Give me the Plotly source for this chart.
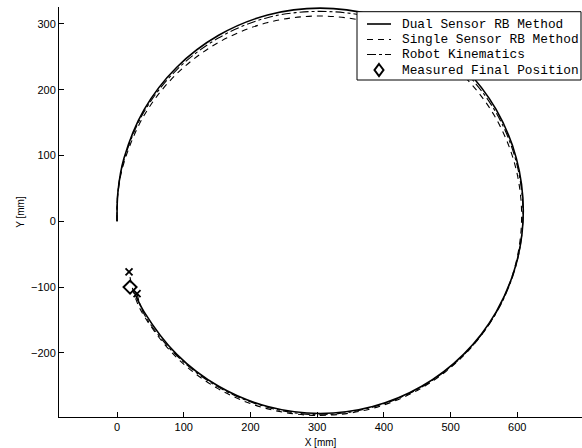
import plotly.graph_objects as go

# Dual Sensor RB Method (solid)
dual_x = [0, 1.4, 10.4, 40.8, 89.2, 152.3, 225.7, 304.5, 383.3, 456.8, 519.8, 568.2, 598.6, 609,
          598.6, 568.2, 519.8, 456.8, 383.3, 304.5, 225.7, 152.3, 89.2, 40.8, 26]
dual_y = [0, 45, 95.7, 170, 233.8, 282.7, 313.5, 324, 313.5, 282.7, 233.8, 170, 95.7, 16,
          -63.7, -138, -201.8, -250.7, -281.5, -292, -281.5, -250.7, -201.8, -138, -108]

# Single Sensor RB Method (dashed)
single_x = [0, 1.1, 9.8, 40.2, 88.4, 151.3, 224.5, 303, 381.5, 454.8, 517.6, 565.8, 596.2, 606.5,
            596.2, 565.8, 517.6, 454.8, 381.5, 303, 224.5, 151.3, 88.4, 40.2, 26, 18]
single_y = [0, 40, 87, 160.3, 223.1, 271.3, 301.7, 312, 301.7, 271.3, 223.1, 160.3, 87, 8.5,
            -70, -143.3, -206.1, -254.3, -284.7, -295, -284.7, -254.3, -206.1, -143.3, -112, -77]

# Robot Kinematics (dash-dot)
robot_x = [0, 1.0, 9.9, 40.3, 88.7, 151.8, 225.2, 304, 382.8, 456.3, 519.3, 567.7, 598.1, 608.5,
           598.1, 567.7, 519.3, 456.3, 382.8, 304, 225.2, 151.8, 88.7, 40.3, 30]
robot_y = [0, 42, 91.5, 166, 229.5, 278.5, 309.5, 319, 309.5, 278.5, 229.5, 166, 91.5, 12,
           -67, -140.5, -203.5, -252, -282.5, -294, -282.5, -252, -203.5, -140.5, -110]

# Measured final position
final_x = [19.5]
final_y = [-100]

# End markers (x)
end_x = [18, 30]
end_y = [-77, -110]

legend_labels = ["Dual Sensor RB Method", "Single Sensor RB Method",
                 "Robot Kinematics", "Measured Final Position"]

fig = go.Figure()
fig.add_trace(go.Scatter(x=dual_x, y=dual_y, mode="lines", name=legend_labels[0],
                         line=dict(color="black", width=1.6, shape="spline")))
fig.add_trace(go.Scatter(x=single_x, y=single_y, mode="lines", name=legend_labels[1],
                         line=dict(color="black", width=1.1, dash="6px,5px", shape="spline")))
fig.add_trace(go.Scatter(x=robot_x, y=robot_y, mode="lines", name=legend_labels[2],
                         line=dict(color="black", width=1.1, dash="dashdot", shape="spline")))
fig.add_trace(go.Scatter(x=final_x, y=final_y, mode="markers", name=legend_labels[3],
                         marker=dict(symbol="diamond-open", size=10, color="black",
                                     line=dict(width=2, color="black"))))
fig.add_trace(go.Scatter(x=end_x, y=end_y, mode="markers", showlegend=False,
                         marker=dict(symbol="x-thin", size=7, color="black",
                                     line=dict(width=1.8, color="black"))))

# ---- manual legend (paper coordinates of the plot area: 59..582 x 7..417 px)
PL, PW, PT, PH = 59, 523, 7, 410
def px(v):
    return (v - PL) / PW
def py(v):
    return (PT + PH - v) / PH

shapes = [dict(type="rect", xref="paper", yref="paper",
               x0=px(357), x1=px(581), y0=py(80), y1=py(11.7),
               line=dict(color="black", width=1), fillcolor="white", layer="above")]
rows = [24, 39.5, 54.5, 70]
dashes = ["solid", "6px,5px", "dashdot"]
widths = [1.6, 1.1, 1.1]
for r, d, w in zip(rows[:3], dashes, widths):
    shapes.append(dict(type="line", xref="paper", yref="paper",
                       x0=px(367), x1=px(391), y0=py(r), y1=py(r),
                       line=dict(color="black", width=w, dash=d), layer="above"))
cx, cy, hw, hh = 379, rows[3], 4.5, 6
shapes.append(dict(type="path", xref="paper", yref="paper", layer="above",
                   path=f"M {px(cx)},{py(cy-hh)} L {px(cx+hw)},{py(cy)} L {px(cx)},{py(cy+hh)} L {px(cx-hw)},{py(cy)} Z",
                   line=dict(color="black", width=2)))
annotations = []
for r, t in zip(rows, legend_labels):
    annotations.append(dict(xref="paper", yref="paper", x=px(400), y=py(r), text=t,
                            showarrow=False, xanchor="left", yanchor="middle",
                            font=dict(family="Liberation Mono", size=12.8, color="black")))

fig.update_layout(
    width=582, height=448,
    margin=dict(l=59, r=0, t=7, b=31),
    paper_bgcolor="white", plot_bgcolor="white",
    font=dict(family="Liberation Sans", size=10, color="black"),
    showlegend=False,
    shapes=shapes, annotations=annotations,
    xaxis=dict(range=[-87, 697], tickvals=[0, 100, 200, 300, 400, 500, 600],
               ticks="inside", ticklen=5, tickcolor="black", showgrid=False, zeroline=False,
               showline=True, linecolor="black", linewidth=1,
               title=dict(text="X [mm]", standoff=6, font=dict(size=10)),
               tickfont=dict(size=11)),
    yaxis=dict(range=[-297.4, 325.7], tickvals=[-200, -100, 0, 100, 200, 300],
               ticks="inside", ticklen=5, tickcolor="black", showgrid=False, zeroline=False,
               showline=True, linecolor="black", linewidth=1,
               title=dict(text="Y [mm]", standoff=4, font=dict(size=10)),
               tickfont=dict(size=11)),
)

fig.write_html("out.html")
